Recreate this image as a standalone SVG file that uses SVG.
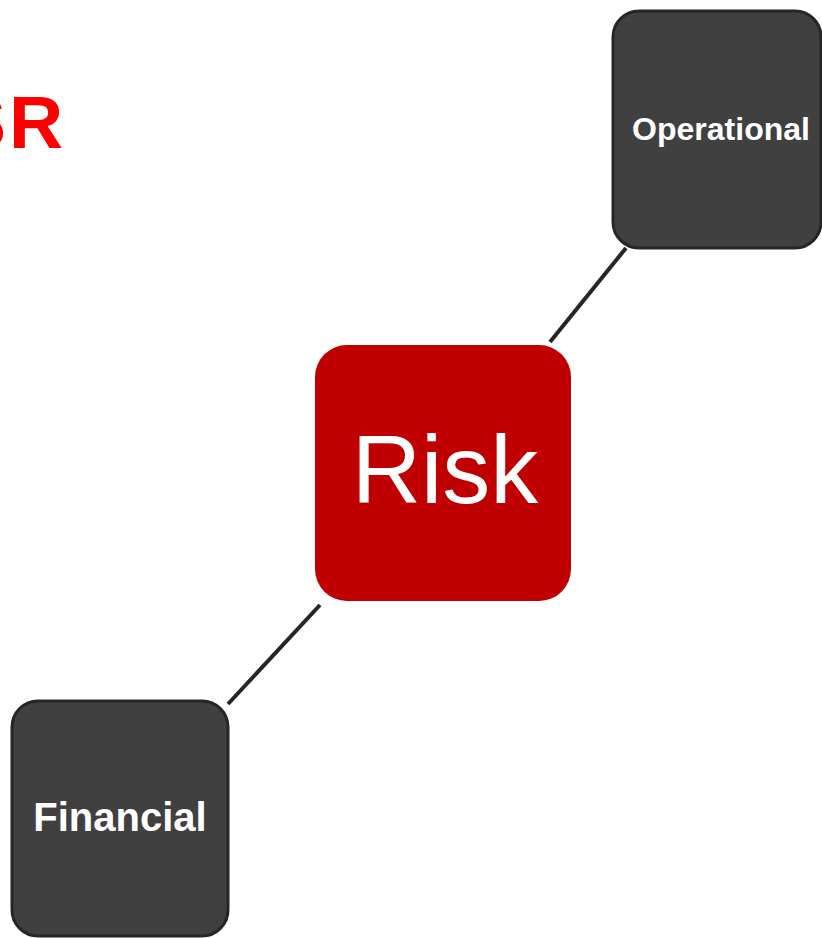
<svg xmlns="http://www.w3.org/2000/svg" width="822" height="938" viewBox="0 0 822 938">
<style>
.dark{fill:#404040;stroke:#262626;stroke-width:3}
.lbl{font-family:"Liberation Sans",Arial,sans-serif;font-weight:bold;fill:#ffffff;text-anchor:middle}
.conn{stroke:#262626;stroke-width:4;stroke-linecap:butt}
</style>
<rect width="822" height="938" fill="#ffffff"/>
<text x="8" y="148" font-family="'Liberation Sans',Arial,sans-serif" font-weight="bold" font-size="75" fill="#ff0000" text-anchor="start"><tspan x="-44">S</tspan><tspan x="9">R</tspan></text>
<g id="connectors">
<line class="conn" x1="550" y1="342" x2="626" y2="248"/>
<line class="conn" x1="320" y1="605" x2="228" y2="704"/>
</g>
<g id="operational">
<rect class="dark" x="613" y="11" width="208" height="237" rx="26"/>
<text class="lbl" x="721" y="140" font-size="32">Operational</text>
</g>
<g id="risk">
<rect x="315" y="345" width="256" height="256" rx="32" fill="#c00000"/>
<text x="445" y="503" font-family="'Liberation Sans',Arial,sans-serif" font-size="96" fill="#ffffff" text-anchor="middle">Risk</text>
</g>
<g id="financial">
<rect class="dark" x="12" y="701" width="216" height="235" rx="26"/>
<text class="lbl" x="120" y="831" font-size="40">Financial</text>
</g>
</svg>
